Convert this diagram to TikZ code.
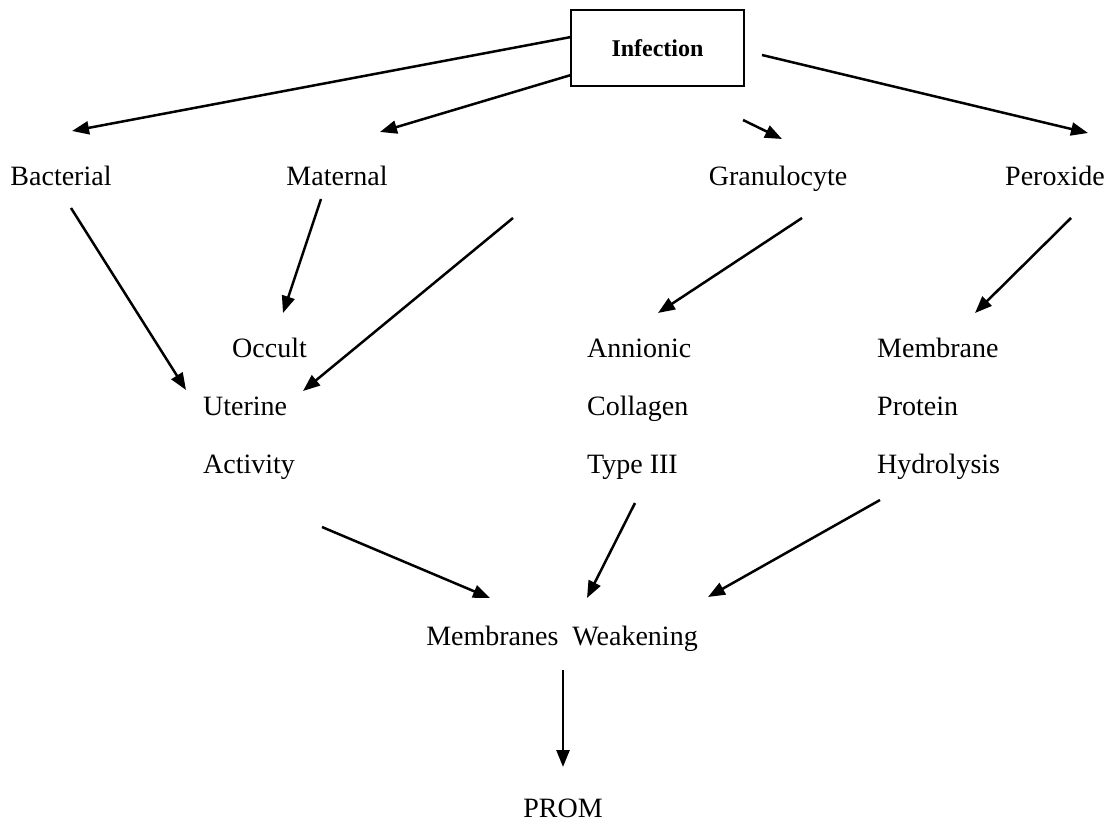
\documentclass[tikz,border=0pt]{standalone}
\usepackage{fontspec}
\setmainfont{Liberation Serif}
\usetikzlibrary{arrows.meta}
\begin{document}
\begin{tikzpicture}[x=1pt,y=-1pt,
  lbl/.style={font=\fontsize{28}{32}\selectfont, inner sep=0pt, anchor=base},
  lblw/.style={lbl, anchor=base west},
  conn/.style={line width=2.5pt, -{Triangle[length=17pt,width=13pt]}},
  boxn/.style={draw, line width=2.2pt, minimum width=173pt, minimum height=76pt,
    font=\fontsize{24}{28}\selectfont\bfseries, inner sep=0pt}]
\useasboundingbox (0,0) rectangle (1116,822);
\node[boxn] (inf) at (657.5,48) {Infection};
\node[lbl] (bact) at (61,185) {Bacterial};
\node[lbl] (mat) at (337,185) {Maternal};
\node[lbl] (gran) at (778,185) {Granulocyte};
\node[lbl] (perox) at (1055,185) {Peroxide};
\node[lblw] (occ) at (232,357) {Occult};
\node[lblw] (ute) at (203,415) {Uterine};
\node[lblw] (act) at (203,473) {Activity};
\node[lblw] (ann) at (587,357) {Annionic};
\node[lblw] (col) at (587,415) {Collagen};
\node[lblw] (typ) at (587,473) {Type III};
\node[lblw] (memb) at (877,357) {Membrane};
\node[lblw] (prot) at (877,415) {Protein};
\node[lblw] (hyd) at (877,473) {Hydrolysis};
\node[lbl] (mw) at (562,645) {Membranes\ \ Weakening};
\node[lbl] (prom) at (563,817) {PROM};
% arrow end points
\coordinate (a1s) at (571,37);  \coordinate (a1e) at (72,131);
\coordinate (a2s) at (571,75);  \coordinate (a2e) at (380,132);
\coordinate (a3s) at (743,120); \coordinate (a3e) at (782,139);
\coordinate (a4s) at (762,55);  \coordinate (a4e) at (1088,133);
\coordinate (b1s) at (71,208);  \coordinate (b1e) at (186,390);
\coordinate (b2s) at (321,199); \coordinate (b2e) at (283,313);
\coordinate (b3s) at (513,218); \coordinate (b3e) at (303,391);
\coordinate (b4s) at (802,218); \coordinate (b4e) at (658,313);
\coordinate (b5s) at (1071,218);\coordinate (b5e) at (975,313);
\coordinate (c1s) at (322,527); \coordinate (c1e) at (490,598);
\coordinate (c2s) at (635,503); \coordinate (c2e) at (587,598);
\coordinate (c3s) at (880,500); \coordinate (c3e) at (708,597);
\coordinate (d1s) at (563,670); \coordinate (d1e) at (563,767);
\draw[conn] (a1s) -- (a1e);
\draw[conn] (a2s) -- (a2e);
\draw[conn] (a3s) -- (a3e);
\draw[conn] (a4s) -- (a4e);
\draw[conn] (b1s) -- (b1e);
\draw[conn] (b2s) -- (b2e);
\draw[conn] (b3s) -- (b3e);
\draw[conn] (b4s) -- (b4e);
\draw[conn] (b5s) -- (b5e);
\draw[conn] (c1s) -- (c1e);
\draw[conn] (c2s) -- (c2e);
\draw[conn] (c3s) -- (c3e);
\draw[conn] (d1s) -- (d1e);
\end{tikzpicture}
\end{document}
